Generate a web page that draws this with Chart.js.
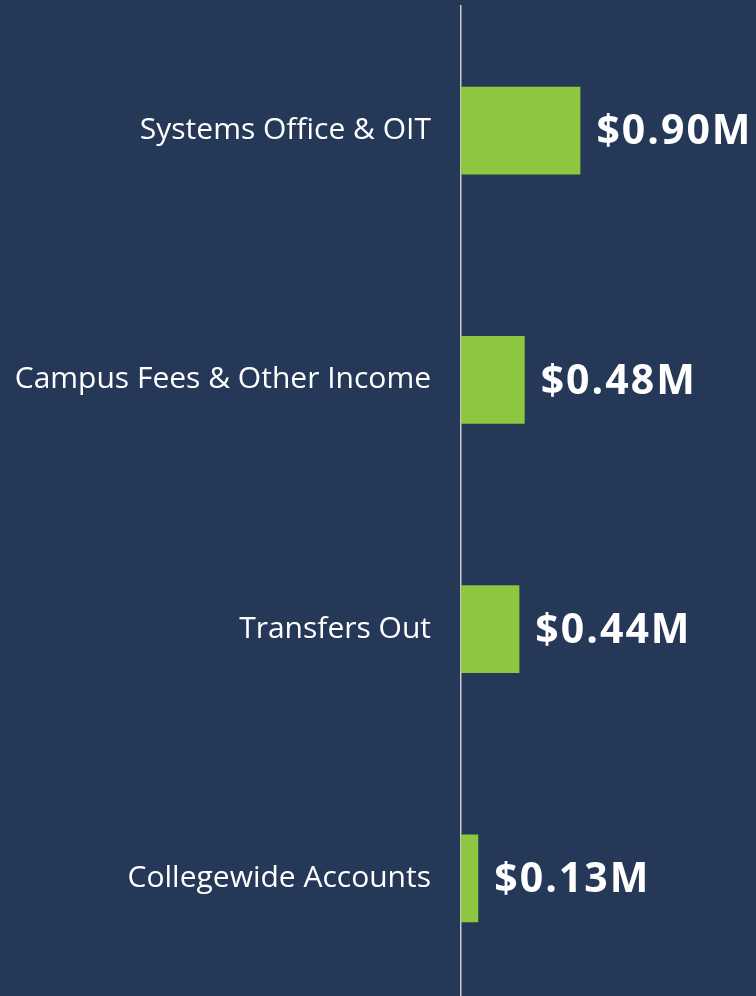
<!DOCTYPE html>
<html>
<head>
<meta charset="utf-8">
<script src="https://cdn.jsdelivr.net/npm/chart.js@4"></script>
<style>
  html, body { margin: 0; padding: 0; background: #253858; overflow: hidden; }
  #wrap { width: 756px; height: 1003px; }
</style>
</head>
<body>
<div id="wrap"><canvas id="myChart"></canvas></div>
<script>
const categories = [
  "Systems Office & OIT",
  "Campus Fees & Other Income",
  "Transfers Out",
  "Collegewide Accounts",
];
const values = [0.90, 0.48, 0.44, 0.13]; // $ millions

// value labels to the right of each bar
const valueLabels = {
  id: "valueLabels",
  afterDatasetsDraw(chart) {
    const ctx = chart.ctx;
    const meta = chart.getDatasetMeta(0);
    ctx.save();
    ctx.fillStyle = "#ffffff";
    ctx.font = "bold 41px 'Open Sans'";
    ctx.letterSpacing = "2px";
    ctx.textAlign = "left";
    ctx.textBaseline = "middle";
    meta.data.forEach(function (bar, i) {
      ctx.fillText("$" + values[i].toFixed(2) + "M", bar.x + 16, bar.y + 2);
    });
    ctx.restore();
  },
};

const ctx = document.getElementById("myChart");
new Chart(ctx, {
  type: "bar",
  data: {
    labels: categories,
    datasets: [
      {
        data: values,
        backgroundColor: "#8DC63F",
        borderWidth: 0,
        categoryPercentage: 1,
        barPercentage: 0.353,
      },
    ],
  },
  options: {
    indexAxis: "y",
    responsive: true,
    maintainAspectRatio: false,
    animation: false,
    layout: { padding: { top: 6, right: 0, bottom: 0, left: 0 } },
    scales: {
      x: {
        display: false,
        min: 0,
        max: 2.224,
      },
      y: {
        grid: { display: false, drawTicks: false },
        border: { display: true, color: "#c8c8c8", width: 1.5 },
        ticks: {
          color: "#ffffff",
          font: { family: "'Open Sans'", size: 30 },
          padding: 30,
        },
        afterFit: function (scale) {
          scale.width = 461;
          scale.paddingTop = 0;
          scale.paddingBottom = 0;
        },
      },
    },
    plugins: {
      legend: { display: false },
      tooltip: { enabled: false },
    },
  },
  plugins: [valueLabels],
});
</script>
</body>
</html>
